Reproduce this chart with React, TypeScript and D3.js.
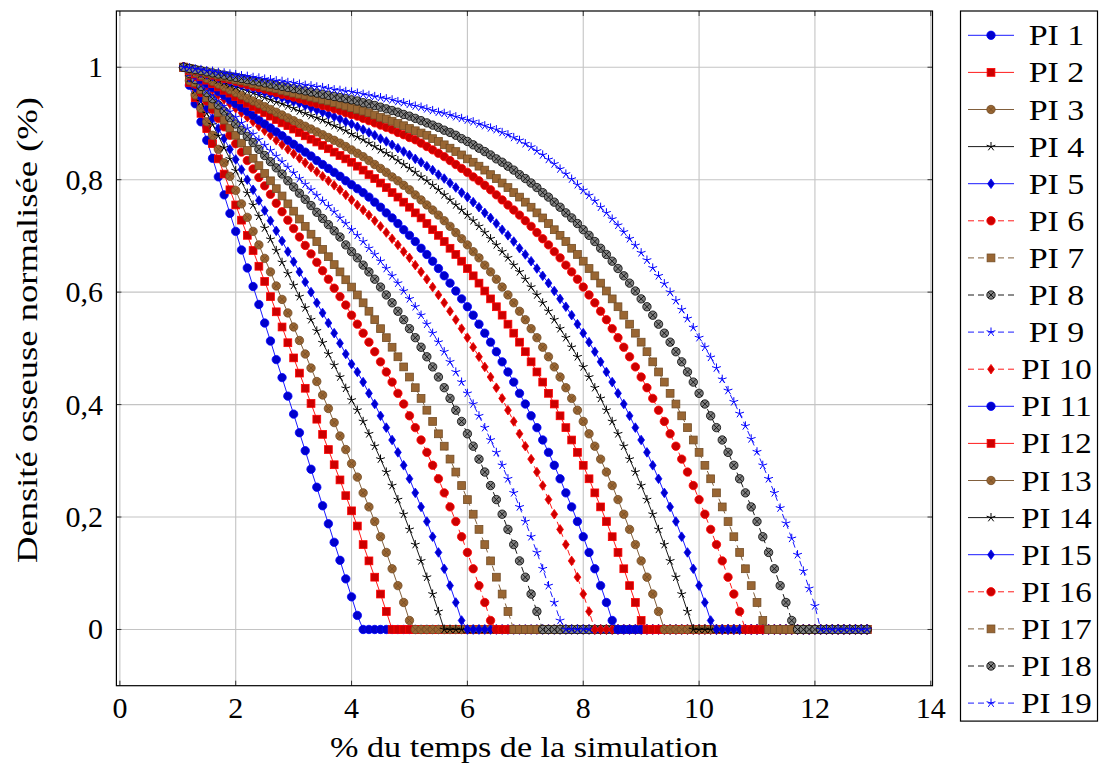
import React from "react";
import * as d3 from "d3";

// ---------- data ----------
const X_FIRST = 1.1;
const X_STEP = 0.1;
const N_POINTS = 119; // x = 1.1 … 12.9, every series rests on 0 after its last listed value
const X_TICKS = [0, 2, 4, 6, 8, 10, 12, 14];
const Y_TICKS = [0, 0.2, 0.4, 0.6, 0.8, 1];
const Y_TICK_LABELS = ["0", "0,2", "0,4", "0,6", "0,8", "1"];
const SERIES_NAMES = Array.from({ length: 19 }, (_, i) => `PI ${i + 1}`);
const X_LABEL = "% du temps de la simulation";
const Y_LABEL = "Densité osseuse normalisée (%)";

const PI1 = [1,.968,.935,.903,.87,.838,.805,.773,.74,.708,.675,.643,.61,.578,.545,.513,.48,.448,.415,.383,.35,.318,.285,.253,.22,.188,.155,.123,.09,.058,.025];
const PI2 = [1,.973,.946,.918,.891,.864,.837,.81,.782,.755,.728,.701,.674,.646,.619,.592,.565,.538,.51,.483,.456,.429,.402,.374,.347,.32,.293,.266,.238,.211,.184,.151,.122,.093,.063,.032];
const PI3 = [1,.976,.951,.927,.903,.879,.854,.83,.806,.781,.757,.733,.708,.684,.66,.636,.611,.587,.563,.538,.514,.49,.465,.441,.417,.393,.368,.344,.32,.295,.271,.243,.218,.192,.165,.137,.108,.078,.048,.016];
const PI4 = [1,.98,.959,.939,.918,.898,.878,.857,.837,.816,.796,.776,.755,.735,.714,.694,.674,.653,.633,.612,.592,.572,.551,.531,.51,.49,.47,.449,.429,.408,.39,.37,.348,.326,.303,.28,.256,.231,.205,.178,.151,.122,.093,.063,.032];
const PI5 = [1,.982,.964,.945,.927,.909,.891,.873,.854,.836,.818,.8,.782,.763,.745,.727,.709,.691,.672,.654,.636,.618,.6,.581,.563,.545,.527,.509,.49,.472,.458,.44,.42,.401,.38,.359,.337,.315,.292,.268,.243,.218,.192,.165,.137,.108,.078,.048,.016];
const PI6 = [1,.985,.97,.955,.94,.925,.909,.894,.879,.864,.849,.834,.819,.804,.789,.774,.758,.743,.728,.713,.698,.683,.668,.653,.638,.623,.607,.592,.577,.559,.543,.527,.511,.494,.476,.458,.44,.42,.401,.38,.359,.337,.315,.292,.268,.243,.218,.192,.165,.137,.108,.078,.048,.016];
const PI7 = [1,.987,.973,.96,.946,.933,.919,.906,.892,.879,.865,.852,.838,.825,.811,.798,.784,.771,.757,.744,.73,.717,.703,.69,.676,.663,.649,.636,.622,.609,.595,.581,.566,.551,.535,.519,.502,.485,.467,.449,.43,.411,.39,.37,.348,.326,.303,.28,.256,.231,.205,.178,.151,.122,.093,.063,.032];
const PI8 = [1,.989,.978,.966,.955,.944,.933,.922,.91,.899,.888,.877,.866,.854,.843,.832,.821,.81,.798,.787,.776,.765,.754,.742,.731,.72,.709,.698,.684,.672,.661,.648,.636,.623,.609,.595,.581,.566,.551,.535,.519,.502,.485,.467,.449,.43,.411,.39,.37,.348,.326,.303,.28,.256,.231,.205,.178,.151,.122,.093,.063,.032];
const PI9 = [1,.99,.98,.97,.96,.951,.941,.931,.921,.911,.901,.891,.881,.871,.861,.852,.842,.832,.822,.812,.802,.792,.782,.772,.762,.753,.743,.732,.722,.711,.701,.69,.678,.667,.655,.642,.629,.616,.602,.588,.574,.559,.543,.527,.511,.494,.476,.458,.44,.42,.401,.38,.359,.337,.315,.292,.268,.243,.218,.192,.165,.137,.108,.078,.048,.016];
const PI10 = [1,.992,.984,.976,.968,.96,.951,.943,.935,.927,.919,.911,.903,.895,.887,.879,.87,.862,.854,.846,.838,.83,.822,.814,.806,.798,.79,.782,.773,.764,.755,.746,.737,.727,.717,.706,.695,.684,.672,.661,.648,.636,.623,.609,.595,.581,.566,.551,.535,.519,.502,.485,.467,.449,.43,.411,.39,.37,.348,.326,.303,.28,.256,.231,.205,.178,.151,.122,.093,.063,.032];
const PI11 = [1,.993,.986,.978,.971,.964,.957,.95,.942,.935,.928,.921,.914,.906,.899,.892,.885,.878,.87,.863,.856,.849,.842,.834,.827,.82,.813,.806,.798,.791,.784,.777,.769,.76,.751,.741,.732,.722,.711,.701,.69,.678,.667,.655,.642,.629,.616,.602,.588,.574,.559,.543,.527,.511,.494,.476,.458,.44,.42,.401,.38,.359,.337,.315,.292,.268,.243,.218,.192,.165,.137,.108,.078,.048,.016];
const PI12 = [1,.994,.988,.983,.977,.971,.965,.959,.954,.948,.942,.936,.93,.925,.919,.913,.907,.901,.896,.89,.884,.878,.872,.867,.861,.855,.849,.843,.837,.831,.824,.817,.809,.802,.794,.786,.777,.769,.76,.751,.741,.732,.722,.711,.701,.69,.678,.667,.655,.642,.629,.616,.602,.588,.574,.559,.543,.527,.511,.494,.476,.458,.44,.42,.401,.38,.359,.337,.315,.292,.268,.243,.218,.192,.165,.137,.108,.078,.048,.016];
const PI13 = [1,.995,.99,.985,.98,.975,.97,.965,.96,.955,.95,.945,.94,.935,.93,.925,.92,.915,.91,.905,.9,.895,.89,.885,.88,.875,.87,.865,.859,.853,.847,.841,.834,.827,.82,.813,.805,.798,.79,.782,.773,.764,.755,.746,.737,.727,.717,.706,.695,.684,.672,.661,.648,.636,.623,.609,.595,.581,.566,.551,.535,.519,.502,.485,.467,.449,.43,.411,.39,.37,.348,.326,.303,.28,.256,.231,.205,.178,.151,.122,.093,.063,.032];
const PI14 = [1,.996,.992,.988,.985,.981,.977,.973,.969,.965,.962,.958,.954,.95,.946,.942,.938,.935,.931,.927,.922,.918,.914,.91,.906,.901,.896,.892,.887,.881,.876,.871,.865,.859,.853,.847,.841,.834,.827,.82,.813,.805,.798,.79,.782,.773,.764,.755,.746,.737,.727,.717,.706,.695,.684,.672,.661,.648,.636,.623,.609,.595,.581,.566,.551,.535,.519,.502,.485,.467,.449,.43,.411,.39,.37,.348,.326,.303,.28,.256,.231,.205,.178,.151,.122,.093,.063,.032];
const PI15 = [1,.997,.994,.99,.987,.984,.981,.978,.974,.971,.968,.965,.962,.958,.955,.952,.949,.946,.942,.939,.936,.932,.928,.924,.92,.916,.912,.908,.903,.899,.894,.889,.884,.879,.873,.868,.862,.856,.85,.844,.837,.831,.824,.817,.809,.802,.794,.786,.777,.769,.76,.751,.741,.732,.722,.711,.701,.69,.678,.667,.655,.642,.629,.616,.602,.588,.574,.559,.543,.527,.511,.494,.476,.458,.44,.42,.401,.38,.359,.337,.315,.292,.268,.243,.218,.192,.165,.137,.108,.078,.048,.016];
const PI16 = [1,.997,.994,.992,.989,.986,.983,.98,.978,.975,.972,.969,.966,.964,.961,.958,.955,.952,.95,.947,.944,.941,.938,.935,.932,.929,.926,.923,.919,.916,.913,.909,.905,.901,.897,.893,.889,.884,.88,.875,.871,.865,.859,.853,.847,.841,.834,.827,.82,.813,.805,.798,.79,.782,.773,.764,.755,.746,.737,.727,.717,.706,.695,.684,.672,.661,.648,.636,.623,.609,.595,.581,.566,.551,.535,.519,.502,.485,.467,.449,.43,.411,.39,.37,.348,.326,.303,.28,.256,.231,.205,.178,.151,.122,.093,.063,.032];
const PI17 = [1,.998,.995,.993,.99,.988,.986,.983,.981,.978,.976,.974,.971,.969,.966,.964,.962,.959,.957,.954,.952,.95,.947,.945,.942,.94,.937,.934,.931,.928,.925,.922,.919,.915,.911,.908,.904,.9,.896,.891,.887,.883,.879,.873,.868,.862,.856,.85,.844,.837,.831,.824,.817,.809,.802,.794,.786,.777,.769,.76,.751,.741,.732,.722,.711,.701,.69,.678,.667,.655,.642,.629,.616,.602,.588,.574,.559,.543,.527,.511,.494,.476,.458,.44,.42,.401,.38,.359,.337,.315,.292,.268,.243,.218,.192,.165,.137,.108,.078,.048,.016];
const PI18 = [1,.998,.996,.994,.992,.99,.988,.986,.984,.982,.98,.978,.976,.974,.972,.97,.968,.966,.964,.962,.96,.958,.956,.954,.952,.95,.948,.946,.944,.942,.94,.937,.935,.932,.929,.926,.923,.92,.916,.913,.909,.905,.901,.897,.893,.888,.884,.879,.873,.868,.862,.856,.85,.844,.837,.831,.824,.817,.809,.802,.794,.786,.777,.769,.76,.751,.741,.732,.722,.711,.701,.69,.678,.667,.655,.642,.629,.616,.602,.588,.574,.559,.543,.527,.511,.494,.476,.458,.44,.42,.401,.38,.359,.337,.315,.292,.268,.243,.218,.192,.165,.137,.108,.078,.048,.016];
const PI19 = [1,.999,.997,.996,.994,.993,.991,.99,.988,.987,.985,.984,.982,.981,.979,.978,.976,.975,.973,.972,.97,.968,.967,.965,.964,.962,.96,.959,.957,.956,.954,.952,.95,.948,.946,.944,.942,.939,.937,.934,.931,.929,.926,.923,.92,.918,.915,.912,.909,.906,.903,.899,.896,.892,.889,.884,.88,.875,.87,.864,.858,.851,.844,.836,.828,.819,.81,.801,.791,.781,.772,.762,.751,.741,.73,.719,.707,.695,.683,.67,.657,.643,.629,.615,.6,.585,.569,.553,.537,.519,.502,.484,.465,.445,.425,.405,.384,.362,.339,.316,.292,.268,.243,.216,.189,.162,.133,.104,.073,.042];

const SERIES_VALUES = [PI1, PI2, PI3, PI4, PI5, PI6, PI7, PI8, PI9, PI10, PI11, PI12, PI13, PI14, PI15, PI16, PI17, PI18, PI19];

// ---------- styles (pgfplots default cycle list) ----------
type MarkKind = "circle" | "square" | "otimes" | "star" | "diamond";
type Style = { line: string; fill: string; stroke: string; mark: MarkKind; dashed: boolean };
const CYCLE: Style[] = [
  { line: "#0000ff", fill: "#0000cc", stroke: "#0000ff", mark: "circle", dashed: false },
  { line: "#ff0000", fill: "#cc0000", stroke: "#ff0000", mark: "square", dashed: false },
  { line: "#734d26", fill: "#996633", stroke: "#734d26", mark: "otimes", dashed: false },
  { line: "#000000", fill: "none", stroke: "#000000", mark: "star", dashed: false },
  { line: "#0000ff", fill: "#0000cc", stroke: "#0000ff", mark: "diamond", dashed: false },
  { line: "#ff0000", fill: "#cc0000", stroke: "#ff0000", mark: "circle", dashed: true },
  { line: "#734d26", fill: "#996633", stroke: "#734d26", mark: "square", dashed: true },
  { line: "#000000", fill: "#808080", stroke: "#000000", mark: "otimes", dashed: true },
  { line: "#0000ff", fill: "none", stroke: "#0000ff", mark: "star", dashed: true },
  { line: "#ff0000", fill: "#cc0000", stroke: "#ff0000", mark: "diamond", dashed: true },
];

const W = 1100;
const H = 769;
const PLOT = { left: 116.4, right: 932.5, top: 11, bottom: 685.7 };
const FONT = '"Liberation Serif", "DejaVu Serif", serif';
const FS = 30;
const LEGEND = { left: 960.5, top: 11, width: 137, rowH: 37.1, firstRow: 35.3 };
const TEXT_STYLE = { fontFamily: FONT };

function Marker({ x, y, s }: { x: number; y: number; s: Style }) {
  const sw = 0.8;
  switch (s.mark) {
    case "circle":
      return <circle cx={x} cy={y} r={4.2} fill={s.fill} stroke={s.stroke} strokeWidth={sw} />;
    case "square":
      return <rect x={x - 3.9} y={y - 3.9} width={7.8} height={7.8} fill={s.fill} stroke={s.stroke} strokeWidth={sw} />;
    case "otimes": {
      const c = 2.97;
      return (
        <g>
          <circle cx={x} cy={y} r={4.2} fill={s.fill} stroke={s.stroke} strokeWidth={sw} />
          <path d={`M${x - c},${y - c}L${x + c},${y + c}M${x - c},${y + c}L${x + c},${y - c}`} stroke={s.stroke} strokeWidth={sw} />
        </g>
      );
    }
    case "star": {
      const r = 4.6;
      let d = "";
      for (let k = 0; k < 5; k++) {
        const a = (90 + 72 * k) * Math.PI / 180;
        d += `M${x},${y}L${x + r * Math.cos(a)},${y - r * Math.sin(a)}`;
      }
      return <path d={d} stroke={s.stroke} strokeWidth={1} fill="none" />;
    }
    case "diamond":
      return (
        <polygon
          points={`${x},${y - 4.8} ${x + 3.4},${y} ${x},${y + 4.8} ${x - 3.4},${y}`}
          fill={s.fill}
          stroke={s.stroke}
          strokeWidth={sw}
        />
      );
  }
  return null;
}

export default function App() {
  const xScale = d3.scaleLinear().domain([-0.06, 14.03]).range([PLOT.left, PLOT.right]);
  const yScale = d3.scaleLinear().domain([-0.1, 1.1]).range([PLOT.bottom, PLOT.top]);
  const xs = d3.range(N_POINTS).map((j) => X_FIRST + j * X_STEP);

  const series = SERIES_VALUES.map((vals, i) => {
    const full = vals.concat(new Array(Math.max(0, N_POINTS - vals.length)).fill(0));
    const pts: [number, number][] = full.map((v, j) => [xs[j], v]);
    return { name: SERIES_NAMES[i], pts, style: CYCLE[i % CYCLE.length] };
  });

  const line = d3
    .line<[number, number]>()
    .x((d) => xScale(d[0]))
    .y((d) => yScale(d[1]));

  const tickLen = 5;

  return (
    <svg width={W} height={H} style={{ position: "absolute", left: 0, top: 0, background: "#fff" }}>
      <rect x={0} y={0} width={W} height={H} fill="#fff" />
      {/* grid */}
      <g stroke="#c4c4c4" strokeWidth={1.1}>
        {X_TICKS.map((t) => (
          <line key={"gx" + t} x1={xScale(t)} x2={xScale(t)} y1={PLOT.top} y2={PLOT.bottom} />
        ))}
        {Y_TICKS.map((t) => (
          <line key={"gy" + t} x1={PLOT.left} x2={PLOT.right} y1={yScale(t)} y2={yScale(t)} />
        ))}
      </g>
      {/* ticks */}
      <g stroke="#333" strokeWidth={1}>
        {X_TICKS.map((t) => (
          <g key={"tx" + t}>
            <line x1={xScale(t)} x2={xScale(t)} y1={PLOT.bottom} y2={PLOT.bottom - tickLen} />
            <line x1={xScale(t)} x2={xScale(t)} y1={PLOT.top} y2={PLOT.top + tickLen} />
          </g>
        ))}
        {Y_TICKS.map((t) => (
          <g key={"ty" + t}>
            <line x1={PLOT.left} x2={PLOT.left + tickLen} y1={yScale(t)} y2={yScale(t)} />
            <line x1={PLOT.right} x2={PLOT.right - tickLen} y1={yScale(t)} y2={yScale(t)} />
          </g>
        ))}
      </g>
      {/* series */}
      <g>
        {series.map((s) => (
          <g key={s.name}>
            <path
              d={line(s.pts) || ""}
              fill="none"
              stroke={s.style.line}
              strokeWidth={0.9}
              strokeDasharray={s.style.dashed ? "6,4" : undefined}
            />
            {s.pts.map((p, j) => (
              <Marker key={j} x={xScale(p[0])} y={yScale(p[1])} s={s.style} />
            ))}
          </g>
        ))}
      </g>
      {/* frame */}
      <rect
        x={PLOT.left}
        y={PLOT.top}
        width={PLOT.right - PLOT.left}
        height={PLOT.bottom - PLOT.top}
        fill="none"
        stroke="#000"
        strokeWidth={1.2}
      />
      {/* tick labels */}
      <g fontSize={FS} fill="#000" style={TEXT_STYLE}>
        {X_TICKS.map((t) => (
          <text key={"lx" + t} x={xScale(t)} y={718} textAnchor="middle" style={TEXT_STYLE}>
            {String(t)}
          </text>
        ))}
        {Y_TICKS.map((t, i) => (
          <text key={"ly" + t} x={103} y={yScale(t) + 10} textAnchor="end" style={TEXT_STYLE}>
            {Y_TICK_LABELS[i]}
          </text>
        ))}
      </g>
      {/* axis labels */}
      <text x={524} y={757} fontSize={FS} textAnchor="middle" textLength={388} lengthAdjust="spacingAndGlyphs" style={TEXT_STYLE}>
        {X_LABEL}
      </text>
      <text
        transform={`translate(37,${330}) rotate(-90)`}
        fontSize={FS}
        textAnchor="middle"
        textLength={466}
        lengthAdjust="spacingAndGlyphs"
        style={TEXT_STYLE}
      >
        {Y_LABEL}
      </text>
      {/* legend */}
      <g>
        <rect
          x={LEGEND.left}
          y={LEGEND.top}
          width={LEGEND.width}
          height={LEGEND.firstRow - LEGEND.top + LEGEND.rowH * 18 + 18}
          fill="#fff"
          stroke="#000"
          strokeWidth={1.2}
        />
        {series.map((s, i) => {
          const cy = LEGEND.firstRow + i * LEGEND.rowH;
          const label = s.name;
          const tl = (0.681 + 0.361 + 0.333 + 0.5 * (label.length - 3)) * FS * 0.99;
          return (
            <g key={"lg" + i}>
              <line
                x1={968}
                x2={1014}
                y1={cy}
                y2={cy}
                stroke={s.style.line}
                strokeWidth={0.9}
                strokeDasharray={s.style.dashed ? "6,4" : undefined}
              />
              <Marker x={991} y={cy} s={s.style} />
              <text
                x={1056.5}
                y={cy + 10}
                fontSize={FS}
                textAnchor="middle"
                textLength={tl}
                lengthAdjust="spacingAndGlyphs"
                style={TEXT_STYLE}
              >
                {label}
              </text>
            </g>
          );
        })}
      </g>
    </svg>
  );
}
